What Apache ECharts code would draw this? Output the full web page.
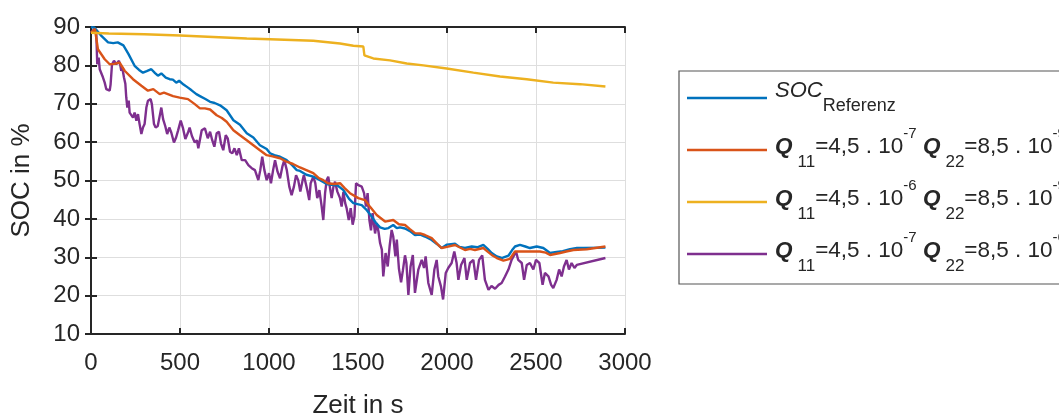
<!DOCTYPE html>
<html>
<head>
<meta charset="utf-8">
<script src="https://cdn.jsdelivr.net/npm/echarts@6/dist/echarts.min.js"></script>
<style>
  html, body { margin: 0; padding: 0; background: #fff; }
  #chart { width: 1059px; height: 416px; }
</style>
</head>
<body>
<div id="chart"></div>
<script>
// [Zeit in s, SOC in %]
const socReferenz = [
  [0, 90], [20, 89.8], [60, 87.6], [96, 86], [125, 85.8], [150, 86], [182, 85.2], [210, 83],
  [245, 79.9], [270, 78.8], [292, 78.1], [313, 78.5], [339, 79], [360, 78], [376, 77.3], [395, 77.9],
  [420, 76.8], [442, 76.4], [460, 76.3], [479, 75.5], [495, 76], [520, 75], [545, 74.2], [565, 73.5],
  [592, 72.5], [612, 72], [640, 71.3], [669, 70.5], [695, 70.2], [725, 69.6], [762, 68.3], [800, 65.7],
  [837, 64.5], [875, 62.3], [912, 61.2], [949, 59.2], [987, 58.2], [1006, 57.1], [1030, 56.6],
  [1062, 56.2], [1099, 55.3], [1130, 54], [1156, 52.7], [1174, 52.5], [1210, 51.5], [1249, 51],
  [1287, 50.1], [1324, 49.1], [1362, 48.8], [1380, 48.9], [1418, 47.5], [1450, 45.2], [1474, 44.1],
  [1521, 43.6], [1545, 42.5], [1577, 40.6], [1600, 39], [1624, 37.8], [1650, 37.4], [1671, 37.6],
  [1698, 38.4], [1718, 37.6], [1736, 37.8], [1764, 37.5], [1792, 36.8], [1820, 35.8], [1850, 35.9],
  [1876, 35.4], [1914, 34.5], [1945, 33.4], [1970, 32.4], [2000, 33.3], [2045, 33.5], [2070, 32.7],
  [2101, 32.4], [2139, 32.8], [2170, 32.6], [2204, 33.2], [2230, 32.1], [2251, 31.1], [2280, 30.2],
  [2307, 29.8], [2345, 30.4], [2365, 31.8], [2382, 32.8], [2410, 33.2], [2440, 32.8], [2466, 32.4],
  [2504, 32.8], [2541, 32.4], [2579, 31.1], [2616, 31.4], [2650, 31.6], [2691, 32.1], [2730, 32.4],
  [2766, 32.4], [2890, 32.5]
];

const socQ1 = [
  [0, 88.5], [22, 89.5], [39, 84.2], [77, 81.6], [105, 80.3], [130, 80.4], [161, 80.7], [189, 78.6],
  [236, 76.4], [283, 74.7], [320, 73.4], [350, 73.8], [386, 72.5], [410, 72.9], [461, 72], [498, 71.6],
  [545, 71.2], [583, 69.9], [612, 68.8], [640, 68.8], [669, 68.5], [706, 67], [735, 66.3], [762, 65.3],
  [800, 63.1], [837, 61.8], [875, 60.5], [912, 59.2], [949, 57.9], [987, 56.6], [1020, 56.3],
  [1062, 55.8], [1099, 54.9], [1135, 54.3], [1174, 53.4], [1210, 52.7], [1249, 51.9], [1280, 50.6],
  [1305, 50.1], [1330, 49.3], [1365, 49.1], [1399, 49.3], [1425, 48], [1455, 46.7], [1502, 45.4],
  [1539, 44.9], [1570, 43], [1605, 41], [1652, 39.3], [1698, 39.7], [1730, 38.6], [1764, 38.4],
  [1790, 37.4], [1820, 36.3], [1850, 36.2], [1876, 35.8], [1914, 35], [1945, 33.5], [1970, 32.4],
  [2000, 32.7], [2045, 33.2], [2070, 32.6], [2101, 31.9], [2130, 32.2], [2157, 31.9], [2204, 32.4],
  [2230, 31.4], [2251, 30.6], [2280, 29.8], [2317, 29.1], [2354, 29.6], [2382, 31.5], [2410, 31.5],
  [2466, 31.5], [2522, 31.5], [2555, 31.2], [2579, 30.6], [2635, 31.1], [2670, 31.5], [2710, 31.9],
  [2785, 32.1], [2890, 32.8]
];

const socQ2 = [
  [0, 88.5], [100, 88.3], [300, 88.1], [500, 87.8], [687, 87.4], [875, 87], [1006, 86.8],
  [1249, 86.4], [1399, 85.7], [1474, 85.1], [1530, 84.9], [1536, 82.6], [1586, 81.8], [1680, 81.3],
  [1774, 80.5], [1867, 80], [1998, 79.2], [2148, 78.1], [2298, 77.1], [2448, 76.4], [2597, 75.5],
  [2747, 75.1], [2890, 74.5]
];

const socQ3 = [
  [0, 88.5], [17, 89.4], [30, 88.1], [35, 80.3], [43, 82], [49, 79], [57, 79.3], [67, 76.9],
  [77, 75.5], [86, 73.8], [96, 74.2], [105, 73.4], [110, 75], [118, 80.3], [129, 81.2], [142, 80.3],
  [157, 81.2], [165, 79.9], [170, 78.6], [176, 79.4], [185, 76.9], [193, 75.2], [198, 71.7], [204, 69],
  [212, 70.8], [217, 67.7], [227, 67.3], [236, 66.4], [245, 67.7], [255, 65.6], [264, 67.3],
  [273, 64.7], [283, 62.1], [292, 63.8], [301, 64.7], [311, 69], [320, 70.8], [335, 71.2], [342, 69.9],
  [354, 64.7], [363, 63.8], [375, 64.2], [388, 67.3], [395, 69], [405, 66], [417, 64.2], [428, 62.1],
  [440, 63.8], [451, 62.5], [466, 59.9], [478, 61.2], [489, 63], [504, 65.6], [516, 63.8], [530, 60.8],
  [545, 62.5], [554, 63.8], [567, 61.6], [583, 59.9], [595, 60.5], [603, 58.4], [622, 63.1],
  [640, 63.6], [656, 61], [669, 62.7], [681, 60.5], [693, 58.8], [706, 62.3], [719, 62.7], [730, 59.7],
  [743, 57.9], [757, 61.8], [768, 61], [781, 57.5], [794, 57.1], [806, 58.4], [819, 56.6], [831, 58.4],
  [847, 55.3], [866, 55.3], [884, 54], [903, 53.2], [921, 52.7], [940, 50.1], [951, 52.7], [962, 56.2],
  [974, 52.7], [987, 50.1], [1000, 51.9], [1011, 49.3], [1023, 52.7], [1034, 55.3], [1048, 52.3],
  [1062, 50.6], [1075, 53.6], [1086, 55.3], [1100, 52.7], [1114, 48.4], [1127, 46.2], [1140, 48.4],
  [1152, 51.4], [1164, 50.1], [1176, 47.1], [1189, 50.1], [1196, 51.4], [1205, 51.9], [1215, 47.5],
  [1226, 44.9], [1234, 49.3], [1249, 51], [1260, 49.3], [1271, 45.4], [1283, 47.5], [1296, 43.2],
  [1305, 39.7], [1315, 46.7], [1324, 50.1], [1333, 51], [1343, 48], [1352, 45.4], [1362, 48.4],
  [1371, 49.7], [1384, 47.1], [1399, 45.4], [1408, 43.2], [1418, 47], [1428, 44.1], [1436, 42.8],
  [1448, 39.7], [1459, 42.8], [1470, 38.5], [1480, 40.6], [1489, 49.3], [1502, 48.8], [1521, 48.4],
  [1534, 46.7], [1545, 43.2], [1554, 46.7], [1564, 39.7], [1573, 37], [1582, 41.5], [1596, 36.2],
  [1605, 38.9], [1615, 36.7], [1624, 33.7], [1634, 32], [1642, 25], [1655, 31.1], [1667, 27.6],
  [1678, 33], [1689, 37.1], [1698, 35.4], [1710, 30.2], [1718, 34.6], [1730, 27], [1742, 23.5],
  [1752, 26.5], [1764, 30.5], [1772, 28.5], [1783, 20.2], [1795, 27.5], [1808, 30.6], [1820, 20.7],
  [1839, 26.8], [1858, 29.3], [1871, 27.2], [1880, 30.2], [1895, 23.3], [1914, 20.2], [1929, 26.8],
  [1942, 29.3], [1951, 25], [1966, 22.4], [1978, 19], [1993, 25.9], [2007, 27.2], [2026, 28.5],
  [2041, 31.5], [2054, 28.5], [2064, 24.1], [2079, 28], [2098, 29.8], [2111, 24.1], [2129, 28.5],
  [2148, 29.3], [2163, 24.1], [2180, 29.3], [2198, 30.5], [2213, 24.1], [2233, 21.5], [2250, 22.5],
  [2270, 21.8], [2290, 22.8], [2307, 23.3], [2326, 25], [2345, 26.8], [2363, 29.3], [2378, 30.6],
  [2388, 31.5], [2400, 29.3], [2420, 28.5], [2433, 24.1], [2448, 28], [2466, 28.5], [2485, 26.8],
  [2500, 29.3], [2519, 28.5], [2537, 22.8], [2550, 25.9], [2570, 25], [2585, 22.8], [2597, 22],
  [2616, 24.1], [2630, 26.8], [2644, 25], [2657, 27.6], [2672, 29.3], [2685, 26.8], [2700, 28.5],
  [2716, 27.2], [2729, 28], [2890, 29.8]
];

const seriesNames = ['SOC_Referenz', 'Q1', 'Q2', 'Q3'];
const legendLabels = [
  '{soc|SOC}{ref|Referenz}',
  '{q0|Q}{sub|11}{t|=4,5 . 10}{sup|-7}{t| }{q|Q}{sub|22}{t|=8,5 . 10}{sup|-9}',
  '{q0|Q}{sub|11}{t|=4,5 . 10}{sup|-6}{t| }{q|Q}{sub|22}{t|=8,5 . 10}{sup|-9}',
  '{q0|Q}{sub|11}{t|=4,5 . 10}{sup|-7}{t| }{q|Q}{sub|22}{t|=8,5 . 10}{sup|-6}'
];
const seriesData = [socReferenz, socQ1, socQ2, socQ3];
const colors = ['#0072BD', '#D95319', '#EDB120', '#7E2F8E'];

const font = "'Liberation Sans', Arial, Helvetica, sans-serif";
const ink = '#262626';

const chart = echarts.init(document.getElementById('chart'));

const option = {
  animation: false,
  color: colors,
  grid: { left: 91, right: 434, top: 27, bottom: 82, outerBoundsMode: 'none', containLabel: false },
  legend: {
    orient: 'vertical',
    left: 679,
    top: 71,
    padding: [2, 60, 5, 8],
    icon: 'rect',
    itemWidth: 80,
    itemHeight: 2.5,
    itemGap: 2,
    backgroundColor: '#fff',
    borderColor: '#555',
    borderWidth: 1.2,
    borderRadius: 0,
    data: seriesNames,
    formatter: function (name) {
      return legendLabels[seriesNames.indexOf(name)];
    },
    textStyle: {
      color: ink,
      fontFamily: font,
      fontSize: 22.5,
      lineHeight: 50,
      rich: {
        soc: { fontFamily: font, fontSize: 22, fontStyle: 'italic', color: ink, padding: [0, 0, 14, 3], verticalAlign: 'middle' },
        ref: { fontFamily: font, fontSize: 18, color: ink, padding: [17, 0, 0, 0], verticalAlign: 'middle' },
        q0: { fontFamily: font, fontSize: 22.5, fontStyle: 'italic', fontWeight: 'bold', color: ink, padding: [0, 5, 6, 3], verticalAlign: 'middle' },
        q: { fontFamily: font, fontSize: 22.5, fontStyle: 'italic', fontWeight: 'bold', color: ink, padding: [0, 5, 6, 0], verticalAlign: 'middle' },
        t: { fontFamily: font, fontSize: 22.5, color: ink, padding: [0, 0, 6, 0], verticalAlign: 'middle' },
        sub: { fontFamily: font, fontSize: 17, color: ink, padding: [24, 0, 0, 0], verticalAlign: 'middle' },
        sup: { fontFamily: font, fontSize: 15, color: ink, padding: [0, 0, 32, 0], verticalAlign: 'middle' }
      }
    }
  },
  xAxis: [{
    type: 'value',
    min: 0,
    max: 3000,
    interval: 500,
    name: 'Zeit in s',
    nameLocation: 'middle',
    nameGap: 59,
    nameTextStyle: { color: ink, fontFamily: font, fontSize: 26 },
    axisLine: { show: true, lineStyle: { color: ink, width: 2 } },
    axisTick: { show: true, inside: true, length: 6, lineStyle: { color: ink, width: 2 } },
    axisLabel: { color: ink, fontFamily: font, fontSize: 24, margin: 17, formatter: function (v) { return String(v); } },
    splitLine: { show: true, lineStyle: { color: '#dedede', width: 1 } }
  }, {
    type: 'value',
    position: 'top',
    min: 0,
    max: 3000,
    interval: 500,
    axisLine: { show: true, lineStyle: { color: ink, width: 2 } },
    axisTick: { show: true, inside: true, length: 6, lineStyle: { color: ink, width: 2 } },
    axisLabel: { show: false },
    splitLine: { show: false }
  }],
  yAxis: [{
    type: 'value',
    min: 10,
    max: 90,
    interval: 10,
    name: 'SOC in %',
    nameLocation: 'middle',
    nameGap: 56,
    nameTextStyle: { color: ink, fontFamily: font, fontSize: 26 },
    axisLine: { show: true, lineStyle: { color: ink, width: 2 } },
    axisTick: { show: true, inside: true, length: 6, lineStyle: { color: ink, width: 2 } },
    axisLabel: { color: ink, fontFamily: font, fontSize: 24, margin: 11 },
    splitLine: { show: true, lineStyle: { color: '#dedede', width: 1 } }
  }, {
    type: 'value',
    position: 'right',
    min: 10,
    max: 90,
    interval: 10,
    axisLine: { show: true, lineStyle: { color: ink, width: 2 } },
    axisTick: { show: true, inside: true, length: 6, lineStyle: { color: ink, width: 2 } },
    axisLabel: { show: false },
    splitLine: { show: false }
  }],
  series: seriesNames.map(function (name, i) {
    return {
      name: name,
      type: 'line',
      data: seriesData[i],
      showSymbol: false,
      symbol: 'none',
      lineStyle: { width: 2.4, color: colors[i] },
      itemStyle: { color: colors[i] },
      z: 3 + (i === 3 ? 0 : 1)
    };
  })
};

chart.setOption(option);
</script>
</body>
</html>
